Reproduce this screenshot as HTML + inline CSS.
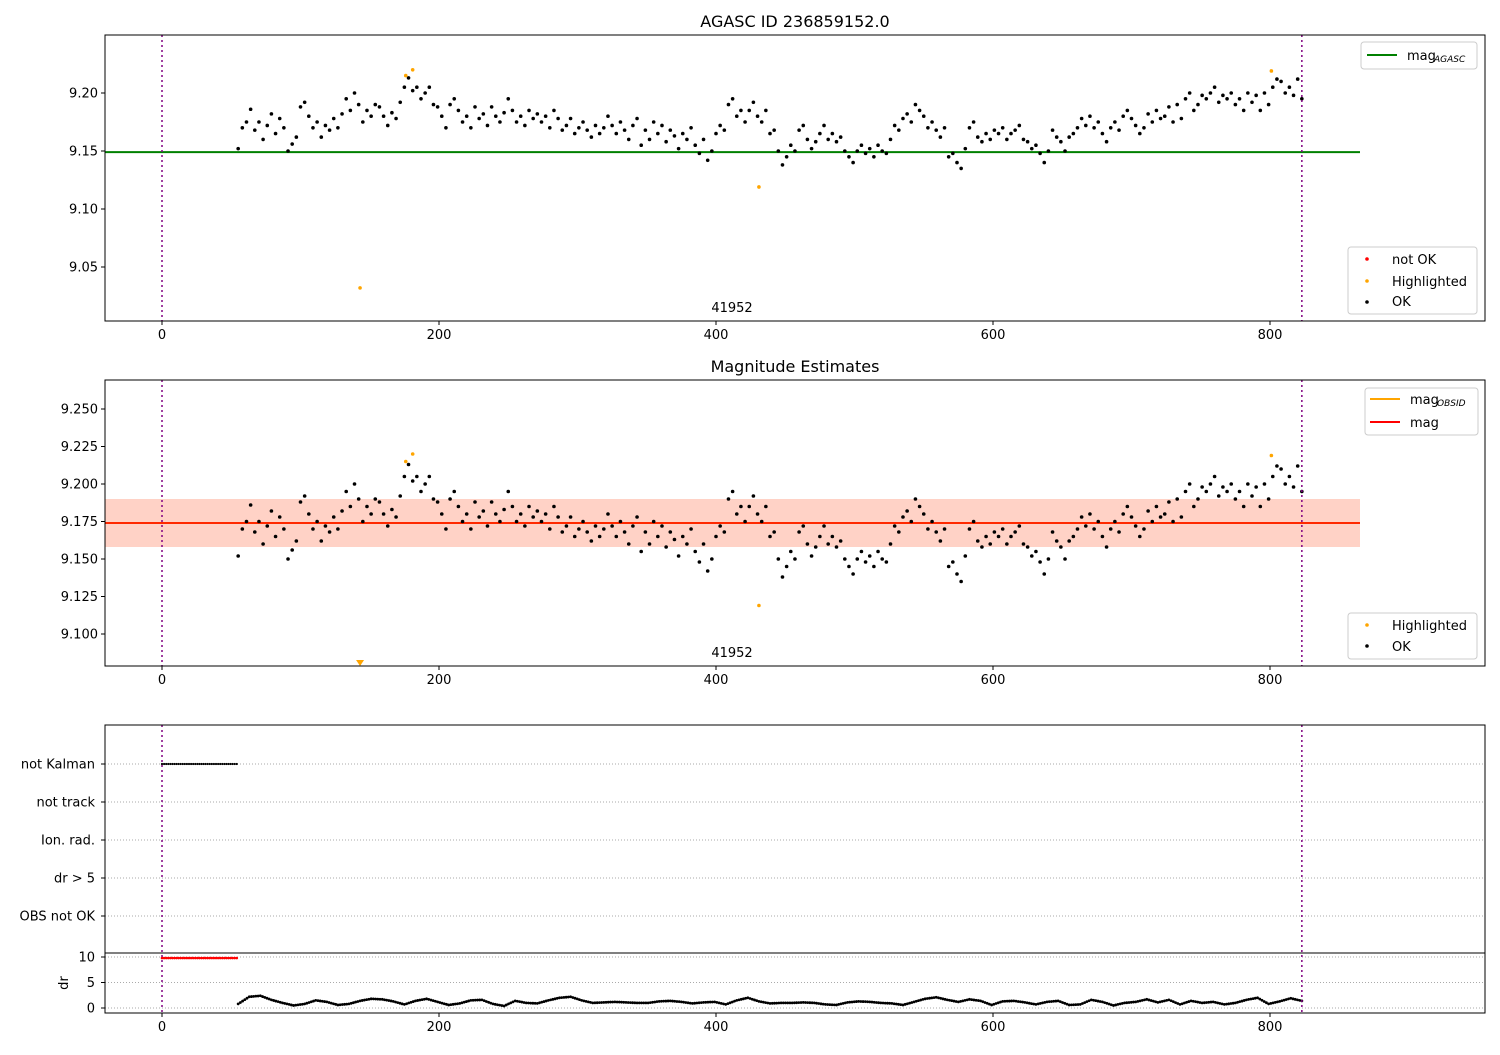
<!DOCTYPE html>
<html><head><meta charset="utf-8"><style>
body{margin:0;background:#fff;font-family:"Liberation Sans","DejaVu Sans",sans-serif;}
svg text{font-family:"DejaVu Sans","Liberation Sans",sans-serif;}
</style></head><body>
<svg id="chart" width="1500" height="1050" xmlns="http://www.w3.org/2000/svg"></svg>
<script>
const tStart = 55, tStep = 3;
const magValues = [9.152,9.170,9.175,9.186,9.168,9.175,9.160,9.172,9.182,9.165,9.178,9.170,9.150,9.156,9.162,9.188,9.192,9.180,9.170,9.175,9.162,9.172,9.168,9.178,9.170,9.182,9.195,9.185,9.200,9.190,9.175,9.185,9.180,9.190,9.188,9.180,9.172,9.183,9.178,9.192,9.205,9.213,9.202,9.205,9.195,9.200,9.205,9.190,9.188,9.180,9.170,9.190,9.195,9.185,9.175,9.180,9.170,9.188,9.178,9.182,9.172,9.188,9.180,9.175,9.183,9.195,9.185,9.175,9.180,9.172,9.185,9.178,9.182,9.175,9.180,9.170,9.185,9.178,9.168,9.172,9.178,9.165,9.170,9.175,9.168,9.162,9.172,9.165,9.170,9.180,9.172,9.165,9.175,9.168,9.160,9.172,9.178,9.155,9.168,9.160,9.175,9.165,9.172,9.158,9.168,9.163,9.152,9.165,9.160,9.170,9.155,9.148,9.160,9.142,9.150,9.165,9.172,9.168,9.190,9.195,9.180,9.185,9.175,9.185,9.192,9.180,9.175,9.185,9.165,9.168,9.150,9.138,9.145,9.155,9.150,9.168,9.172,9.160,9.152,9.158,9.165,9.172,9.160,9.165,9.158,9.162,9.150,9.145,9.140,9.150,9.155,9.148,9.152,9.145,9.155,9.150,9.148,9.160,9.172,9.168,9.178,9.182,9.175,9.190,9.185,9.180,9.170,9.175,9.168,9.162,9.170,9.145,9.148,9.140,9.135,9.152,9.170,9.175,9.162,9.158,9.165,9.160,9.168,9.165,9.170,9.160,9.165,9.168,9.172,9.160,9.158,9.152,9.155,9.148,9.140,9.150,9.168,9.162,9.158,9.150,9.162,9.165,9.170,9.178,9.172,9.180,9.170,9.175,9.165,9.158,9.170,9.175,9.168,9.180,9.185,9.178,9.172,9.165,9.170,9.182,9.175,9.185,9.178,9.180,9.188,9.175,9.190,9.178,9.195,9.200,9.185,9.190,9.198,9.195,9.200,9.205,9.192,9.198,9.195,9.200,9.190,9.195,9.185,9.200,9.192,9.198,9.185,9.200,9.190,9.205,9.212,9.210,9.200,9.205,9.198,9.212,9.195];
const hlTimes = [143,176,181,431,801];
const hlMags = [9.032,9.215,9.220,9.119,9.219];
const drStart = 55, drStep = 8;
const drValues = [0.8,2.2,2.4,1.6,1.0,0.5,0.8,1.5,1.2,0.6,0.8,1.4,1.8,1.7,1.3,0.7,1.4,1.8,1.2,0.6,0.9,1.5,1.6,0.8,0.4,1.4,1.0,0.9,1.5,2.0,2.2,1.5,1.0,1.1,1.2,1.1,1.0,1.0,1.3,1.4,1.2,0.9,1.1,1.2,0.7,1.5,2.0,1.3,0.9,1.0,1.0,1.1,1.0,0.7,0.6,1.1,1.3,1.2,1.0,0.9,0.6,1.2,1.8,2.1,1.6,1.2,1.7,1.4,0.6,1.3,1.4,1.1,0.7,1.2,1.4,0.6,0.7,1.6,1.2,0.5,1.0,1.2,1.7,1.1,1.6,0.7,1.4,1.0,1.2,0.7,1.0,1.6,2.0,0.8,1.3,1.9,1.4];
const nkStart = 0, nkEnd = 55;
const magAgasc = 9.149, magObsid = 9.174, magMean = 9.174, bandLo = 9.158, bandHi = 9.190;
const xTicks = [0,200,400,600,800];
const y1Ticks = [9.05,9.10,9.15,9.20];
const y2Ticks = [9.100,9.125,9.150,9.175,9.200,9.225,9.250];
const flagLabels = ["not Kalman","not track","Ion. rad.","dr > 5","OBS not OK"];
const drTicks = [0,5,10];

const svg = document.getElementById('chart');
const NS = 'http://www.w3.org/2000/svg';
function mk(tag, attrs, parent){const e=document.createElementNS(NS,tag);for(const k in attrs)e.setAttribute(k,attrs[k]);(parent||svg).appendChild(e);return e;}
const L=105,R=1485;
const X = t => 162 + t*1.385;
const Y1 = m => 93 + (9.20-m)*1160;
const Y2 = m => 409 + (9.25-m)*1500;
const YF = i => 764 + i*38;
const YD = d => 1008 - d*5.1;
const fmt2 = v=>v.toFixed(2), fmt3=v=>v.toFixed(3);

function clip(id,y0,y1){const c=mk('clipPath',{id:id});mk('rect',{x:L,y:y0,width:R-L,height:y1-y0},c);}
clip('c1',35,321);clip('c2',380,666);clip('c3',953,1013);

function xAxis(yb,name){
  const g=mk('g',{});
  
  
  xTicks.forEach(t=>{mk('line',{x1:X(t),x2:X(t),y1:yb,y2:yb+4,stroke:'#000'},g);const tx=mk('text',{x:X(t),y:yb+18,'font-size':13,'text-anchor':'middle'},g);tx.textContent=t;});
}
function yAxis(ticks,Yf,f,name){
  const g=mk('g',{});
  
  
  ticks.forEach(v=>{mk('line',{x1:L-4,x2:L,y1:Yf(v),y2:Yf(v),stroke:'#000'},g);const tx=mk('text',{x:L-7,y:Yf(v)+4.5,'font-size':13,'text-anchor':'end'},g);tx.textContent=f(v);});
}
function vlines(y0,y1,cl){
  [0,823].forEach(t=>{const l=mk('line',{x1:X(t),x2:X(t),y1:y0,y2:y1,stroke:'#800080','stroke-width':1.5,'stroke-dasharray':'2,3'});
  
  });
}
function dots(Yf,cp,name){
  const g=mk('g',{'clip-path':'url(#'+cp+')'});
  
  
  magValues.forEach((m,i)=>{mk('circle',{cx:X(tStart+i*tStep),cy:Yf(m),r:1.8,fill:'#000'},g);});
  const h=mk('g',{'clip-path':'url(#'+cp+')'});
  
  
  hlTimes.forEach((t,i)=>{mk('circle',{cx:X(t),cy:Yf(hlMags[i]),r:1.8,fill:'orange'},h);});
}
function text(x,y,s,size,anchor,name){const t=mk('text',{x:x,y:y,'font-size':size,'text-anchor':anchor||'start'});t.textContent=s;return t;}
function legendBox(x,y,w,h,name){const r=mk('rect',{x:x,y:y,width:w,height:h,rx:3,fill:'#fff','fill-opacity':0.85,stroke:'#ccc'});}

// ---------- Panel 1 ----------
text(795,27,'AGASC ID 236859152.0',16,'middle','chart-title');
const g1=mk('line',{x1:L,x2:1360,y1:Y1(magAgasc),y2:Y1(magAgasc),stroke:'green','stroke-width':2,'clip-path':'url(#c1)'});


dots(Y1,'c1','ok-points-top');
vlines(35,321);
text(732,312,'41952',13,'middle','obsid-label-top');
mk('rect',{x:L,y:35,width:R-L,height:286,fill:'none',stroke:'#000'});
xAxis(321,'x-axis-top');yAxis(y1Ticks,Y1,fmt2,'y-axis-top');
legendBox(1361,42,116,27,'legend-agasc');
mk('line',{x1:1367,x2:1397,y1:55,y2:55,stroke:'green','stroke-width':2});
text(1407,60,'mag',13,'start','legend-mag-agasc');text(1434,62,'AGASC',9,'start','legend-agasc-sub').setAttribute('font-style','italic');
legendBox(1348,247,129,67,'legend-status-top');
mk('circle',{cx:1367,cy:259,r:1.8,fill:'red'});text(1392,264,'not OK',13,'start','legend-not-ok');
mk('circle',{cx:1367,cy:281,r:1.8,fill:'orange'});text(1392,286,'Highlighted',13,'start','legend-highlighted');
mk('circle',{cx:1367,cy:302,r:1.8,fill:'#000'});text(1392,306,'OK',13,'start','legend-ok');

// ---------- Panel 2 ----------
text(795,372,'Magnitude Estimates',16,'middle','magnitude-estimates-title');
const bd=mk('rect',{x:L,y:Y2(bandHi),width:1360-L,height:Y2(bandLo)-Y2(bandHi),fill:'#ffc0cb','fill-opacity':0.45});

const bo=mk('rect',{x:L,y:Y2(bandHi),width:1360-L,height:Y2(bandLo)-Y2(bandHi),fill:'#ffa060','fill-opacity':0.25});

const lo=mk('line',{x1:L,x2:1360,y1:Y2(magObsid),y2:Y2(magObsid),stroke:'orange','stroke-width':2});

const lm=mk('line',{x1:L,x2:1360,y1:Y2(magMean),y2:Y2(magMean),stroke:'red','stroke-width':1.5});

dots(Y2,'c2','ok-points-mid');
mk('path',{d:`M${X(143)-4} 660 L${X(143)+4} 660 L${X(143)} 666 Z`,fill:'orange'});
vlines(380,666);
text(732,657,'41952',13,'middle','obsid-label-mid');
mk('rect',{x:L,y:380,width:R-L,height:286,fill:'none',stroke:'#000'});
xAxis(666,'x-axis-mid');yAxis(y2Ticks,Y2,fmt3,'y-axis-mid');
legendBox(1365,388,113,47,'legend-mag');
mk('line',{x1:1370,x2:1400,y1:399,y2:399,stroke:'orange','stroke-width':2});
text(1410,404,'mag',13,'start','legend-mag-obsid');text(1437,406,'OBSID',9,'start','legend-obsid-sub').setAttribute('font-style','italic');
mk('line',{x1:1370,x2:1400,y1:422,y2:422,stroke:'red','stroke-width':2});
text(1410,427,'mag',13,'start','legend-mag-mean');
legendBox(1348,613,129,46,'legend-status-mid');
mk('circle',{cx:1367,cy:625,r:1.8,fill:'orange'});text(1392,630,'Highlighted',13,'start','legend-highlighted-mid');
mk('circle',{cx:1367,cy:646,r:1.8,fill:'#000'});text(1392,651,'OK',13,'start','legend-ok-mid');

// ---------- Panel 3 flags ----------
flagLabels.forEach((s,i)=>{
  mk('line',{x1:L,x2:R,y1:YF(i),y2:YF(i),stroke:'#aaa','stroke-dasharray':'1,2'});
  mk('line',{x1:L-4,x2:L,y1:YF(i),y2:YF(i),stroke:'#000'});
  text(L-10,YF(i)+4.5,s,13,'end','flag-label-'+i);
});
const nk=mk('g',{});
for(let t=nkStart;t<=nkEnd;t+=1.5){mk('circle',{cx:X(t),cy:YF(0),r:1.1,fill:'#000'},nk);}
// dr panel
drTicks.forEach(v=>{mk('line',{x1:L,x2:R,y1:YD(v),y2:YD(v),stroke:'#aaa','stroke-dasharray':'1,2'});mk('line',{x1:L-4,x2:L,y1:YD(v),y2:YD(v),stroke:'#000'});text(L-10,YD(v)+4.5,String(v),13,'end','dr-tick-'+v);});
const yl=text(68,983,'dr',13,'middle','dr-axis-title');yl.setAttribute('transform','rotate(-90 68 983)');
const nr=mk('g',{});
for(let t=nkStart;t<=nkEnd;t+=1.5){mk('circle',{cx:X(t),cy:YD(9.8),r:1.3,fill:'red'},nr);}
const dg=mk('g',{'clip-path':'url(#c3)'});
drValues.forEach((d,i)=>{const t=drStart+i*drStep;mk('circle',{cx:X(t),cy:YD(d),r:1.4,fill:'#000'},dg);
  if(i<drValues.length-1){const d2=drValues[i+1];for(let k=1;k<5;k++){const f=k/5;mk('circle',{cx:X(t+f*drStep),cy:YD(d+(d2-d)*f),r:1.4,fill:'#000'},dg);}}});
vlines(725,1013);
mk('rect',{x:L,y:725,width:R-L,height:288,fill:'none',stroke:'#000'});
mk('line',{x1:L,x2:R,y1:953,y2:953,stroke:'#000'});
xAxis(1013,'x-axis-bottom');
</script>
</body></html>
